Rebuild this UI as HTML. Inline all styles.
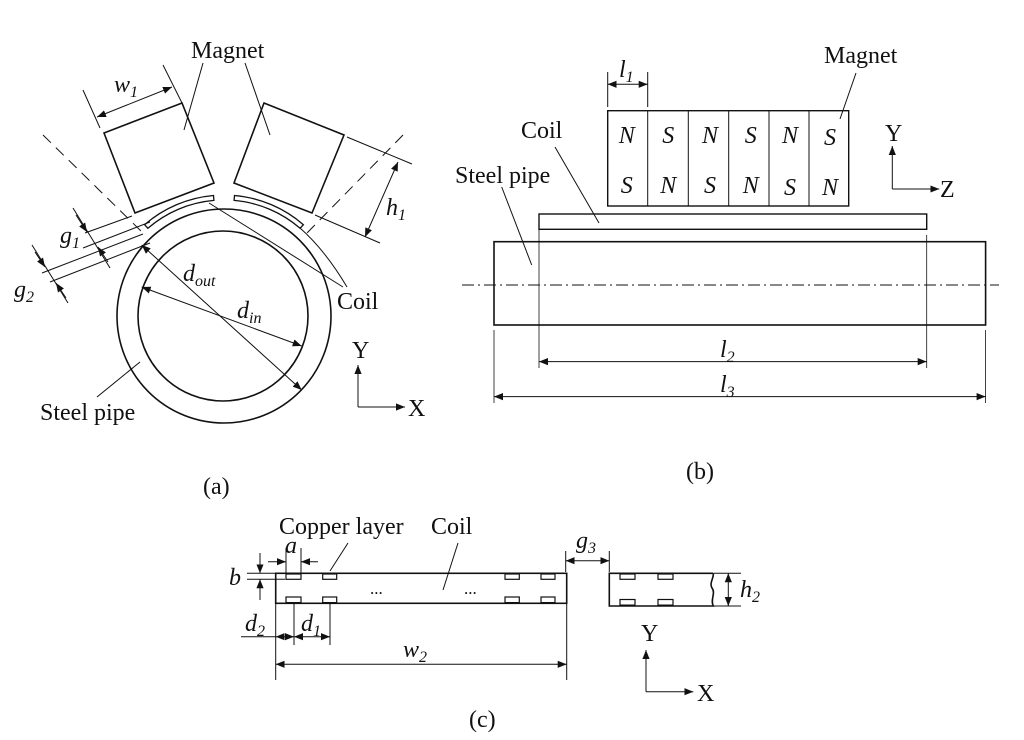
<!DOCTYPE html>
<html><head><meta charset="utf-8"><style>
html,body{margin:0;padding:0;background:#fff;}
svg{display:block;font-family:"Liberation Serif",serif;}
text{fill:#111;}
.i{font-style:italic;}
</style></head><body>
<svg width="1024" height="740" viewBox="0 0 1024 740" xmlns="http://www.w3.org/2000/svg">
<defs>
<marker id="ar" viewBox="0 0 10 10" refX="10" refY="5" markerWidth="9" markerHeight="9" markerUnits="userSpaceOnUse" orient="auto-start-reverse">
<path d="M0,1 L10,5 L0,9 z" fill="#111"/></marker>
</defs>
<g stroke="#111" fill="none" stroke-width="1">
<!-- ===== (a) ===== -->
<circle cx="224" cy="316" r="107" stroke-width="1.6"/>
<circle cx="223" cy="316" r="85" stroke-width="1.6"/>
<polygon points="104,133 182,103 214,183 135,213" stroke-width="1.6"/>
<polygon points="264,103 344,135 312,213 234,183" stroke-width="1.6"/>
<path d="M144.6,224.7 A121 121 0 0 1 213.5,195.5 L213.9,200.4 A116 116 0 0 0 147.9,228.3 Z" stroke-width="1.3"/>
<path d="M234.5,195.5 A121 121 0 0 1 303.4,224.7 L300.1,228.3 A116 116 0 0 0 234.1,200.4 Z" stroke-width="1.3"/>
<line x1="43" y1="135" x2="143" y2="233" stroke-dasharray="11,7"/>
<line x1="403" y1="135" x2="307" y2="233" stroke-dasharray="11,7"/>
<line x1="203" y1="63" x2="184" y2="130"/>
<line x1="245" y1="63" x2="270" y2="135"/>
<line x1="83" y1="90" x2="100" y2="128"/>
<line x1="163" y1="65" x2="182" y2="103"/>
<line x1="97" y1="117" x2="172" y2="87" marker-start="url(#ar)" marker-end="url(#ar)"/>
<line x1="347" y1="137" x2="412" y2="164"/>
<line x1="315" y1="215" x2="380" y2="243"/>
<line x1="398" y1="162" x2="365" y2="237" marker-start="url(#ar)" marker-end="url(#ar)"/>
<line x1="85" y1="233" x2="132" y2="216"/>
<line x1="83" y1="248" x2="150" y2="222"/>
<line x1="42" y1="273" x2="143" y2="234"/>
<line x1="50" y1="282" x2="150" y2="243"/>
<line x1="73" y1="208" x2="110" y2="268"/>
<line x1="32" y1="245" x2="68" y2="303"/>
<line x1="76" y1="215" x2="87" y2="232" marker-end="url(#ar)"/>
<line x1="108" y1="262" x2="98" y2="247" marker-end="url(#ar)"/>
<line x1="35" y1="252" x2="45" y2="267" marker-end="url(#ar)"/>
<line x1="66" y1="298" x2="56" y2="283" marker-end="url(#ar)"/>
<line x1="141.7" y1="245" x2="301.7" y2="390" marker-start="url(#ar)" marker-end="url(#ar)"/>
<line x1="141.7" y1="287" x2="301.7" y2="346" marker-start="url(#ar)" marker-end="url(#ar)"/>
<line x1="343" y1="287" x2="209" y2="203"/>
<path d="M347,287 Q325,250 300,228"/>
<line x1="97" y1="397" x2="140" y2="362"/>
<line x1="358" y1="407" x2="358" y2="365" marker-end="url(#ar)"/>
<line x1="358" y1="407" x2="405" y2="407" marker-end="url(#ar)"/>

<!-- ===== (b) ===== -->
<rect x="607.7" y="110.7" width="241" height="95.3" stroke-width="1.4"/>
<line x1="647.7" y1="110.7" x2="647.7" y2="206"/>
<line x1="688.3" y1="110.7" x2="688.3" y2="206"/>
<line x1="728.7" y1="110.7" x2="728.7" y2="206"/>
<line x1="769" y1="110.7" x2="769" y2="206"/>
<line x1="809" y1="110.7" x2="809" y2="206"/>
<rect x="539" y="214" width="387.7" height="15.3" stroke-width="1.4"/>
<rect x="494" y="241.7" width="491.6" height="83.3" stroke-width="1.6"/>
<line x1="462" y1="285" x2="999" y2="285" stroke-dasharray="12,4,2,4" stroke-width="0.9"/>
<line x1="607.7" y1="72" x2="607.7" y2="107"/>
<line x1="647.7" y1="72" x2="647.7" y2="107"/>
<line x1="607.7" y1="84.3" x2="647.7" y2="84.3" marker-start="url(#ar)" marker-end="url(#ar)"/>
<line x1="856" y1="73" x2="840" y2="119"/>
<line x1="555" y1="147" x2="599" y2="223"/>
<line x1="501.7" y1="187" x2="531.7" y2="265"/>
<line x1="539" y1="230" x2="539" y2="368" stroke-width="0.8"/>
<line x1="926.7" y1="235" x2="926.7" y2="368" stroke-width="0.8"/>
<line x1="494" y1="330" x2="494" y2="403" stroke-width="0.8"/>
<line x1="985.6" y1="330" x2="985.6" y2="403" stroke-width="0.8"/>
<line x1="539" y1="361.6" x2="926.7" y2="361.6" marker-start="url(#ar)" marker-end="url(#ar)"/>
<line x1="494" y1="396.6" x2="985.6" y2="396.6" marker-start="url(#ar)" marker-end="url(#ar)"/>
<line x1="892.3" y1="189" x2="892.3" y2="146" marker-end="url(#ar)"/>
<line x1="892.3" y1="189" x2="939.3" y2="189" marker-end="url(#ar)"/>

<!-- ===== (c) ===== -->
<rect x="275.7" y="573.3" width="291" height="30" stroke-width="1.6"/>
<g stroke-width="1.2">
<rect x="286" y="574" width="15" height="5.3"/><rect x="322.7" y="574" width="14" height="5.3"/>
<rect x="505" y="574" width="14.3" height="5.3"/><rect x="541" y="574" width="14" height="5.3"/>
<rect x="286" y="597" width="15" height="5.6"/><rect x="322.7" y="597" width="14" height="5.6"/>
<rect x="505" y="597" width="14.3" height="5.6"/><rect x="541" y="597" width="14" height="5.6"/>
<rect x="620" y="574" width="15" height="5.3"/><rect x="658" y="574" width="15" height="5.3"/>
<rect x="620" y="599.5" width="15" height="5.6"/><rect x="658" y="599.5" width="15" height="5.6"/>
</g>
<path d="M713.3,573.3 L609.3,573.3 L609.3,606 L713.3,606 C710,600 716,593 712,588 C709,583 714,578 713.3,573.3" stroke-width="1.6"/>
<line x1="348" y1="543" x2="330" y2="571"/>
<line x1="458" y1="543" x2="443" y2="590"/>
<line x1="286" y1="548" x2="286" y2="573"/>
<line x1="301" y1="548" x2="301" y2="573"/>
<line x1="268" y1="561.7" x2="286" y2="561.7" marker-end="url(#ar)"/>
<line x1="318" y1="561.7" x2="301" y2="561.7" marker-end="url(#ar)"/>
<line x1="247" y1="573.3" x2="275" y2="573.3"/>
<line x1="247" y1="579.3" x2="285" y2="579.3"/>
<line x1="260" y1="553" x2="260" y2="573.3" marker-end="url(#ar)"/>
<line x1="260" y1="600" x2="260" y2="579.3" marker-end="url(#ar)"/>
<line x1="275.7" y1="604" x2="275.7" y2="680"/>
<line x1="294" y1="604" x2="294" y2="645"/>
<line x1="330" y1="604" x2="330" y2="645"/>
<line x1="566.7" y1="604" x2="566.7" y2="680"/>
<line x1="241" y1="636.7" x2="275.7" y2="636.7"/>
<line x1="275.7" y1="636.7" x2="294" y2="636.7" marker-start="url(#ar)" marker-end="url(#ar)"/>
<line x1="294" y1="636.7" x2="330" y2="636.7" marker-start="url(#ar)" marker-end="url(#ar)"/>
<line x1="275.7" y1="664.3" x2="566.7" y2="664.3" marker-start="url(#ar)" marker-end="url(#ar)"/>
<line x1="565.7" y1="551" x2="565.7" y2="572"/>
<line x1="609.3" y1="551" x2="609.3" y2="572"/>
<line x1="565.7" y1="560.7" x2="609.3" y2="560.7" marker-start="url(#ar)" marker-end="url(#ar)"/>
<line x1="714" y1="573.3" x2="741" y2="573.3"/>
<line x1="714" y1="606" x2="741" y2="606"/>
<line x1="728.3" y1="573.3" x2="728.3" y2="606" marker-start="url(#ar)" marker-end="url(#ar)"/>
<line x1="646" y1="691.7" x2="646" y2="650" marker-end="url(#ar)"/>
<line x1="646" y1="691.7" x2="693.3" y2="691.7" marker-end="url(#ar)"/>
</g>

<g font-size="24">
<text x="191" y="58">Magnet</text>
<text x="114" y="92" class="i">w<tspan font-size="16" dy="5">1</tspan></text>
<text x="386" y="215" class="i">h<tspan font-size="16" dy="5">1</tspan></text>
<text x="60" y="243" class="i">g<tspan font-size="16" dy="5">1</tspan></text>
<text x="14" y="297" class="i">g<tspan font-size="16" dy="5">2</tspan></text>
<text x="183" y="281" class="i">d<tspan font-size="16" dy="5">out</tspan></text>
<text x="237" y="318" class="i">d<tspan font-size="16" dy="5">in</tspan></text>
<text x="337" y="309">Coil</text>
<text x="40" y="420">Steel pipe</text>
<text x="352" y="358">Y</text>
<text x="408" y="416">X</text>
<text x="203" y="494">(a)</text>
<text x="824" y="63">Magnet</text>
<text x="619" y="77" class="i">l<tspan font-size="16" dy="5">1</tspan></text>
<text x="521" y="138">Coil</text>
<text x="455" y="183">Steel pipe</text>
<g class="i" text-anchor="middle">
<text x="626.7" y="143">N</text><text x="668.3" y="143">S</text><text x="710" y="143">N</text>
<text x="750.7" y="143">S</text><text x="790" y="143">N</text><text x="830" y="145">S</text>
<text x="626.7" y="193">S</text><text x="668.3" y="193">N</text><text x="710" y="193">S</text>
<text x="750.7" y="193">N</text><text x="790" y="195">S</text><text x="830" y="195">N</text>
</g>
<text x="885" y="141">Y</text>
<text x="940" y="197">Z</text>
<text x="720" y="357" class="i">l<tspan font-size="16" dy="5">2</tspan></text>
<text x="720" y="392" class="i">l<tspan font-size="16" dy="5">3</tspan></text>
<text x="686" y="479">(b)</text>
<text x="279" y="534">Copper layer</text>
<text x="431" y="534">Coil</text>
<text x="285" y="553" class="i">a</text>
<text x="229" y="585" class="i">b</text>
<text x="245" y="631" class="i">d<tspan font-size="16" dy="5">2</tspan></text>
<text x="301" y="631" class="i">d<tspan font-size="16" dy="5">1</tspan></text>
<text x="403" y="657" class="i">w<tspan font-size="16" dy="5">2</tspan></text>
<text x="576" y="548" class="i">g<tspan font-size="16" dy="5">3</tspan></text>
<text x="740" y="597" class="i">h<tspan font-size="16" dy="5">2</tspan></text>
<text x="370" y="594" font-size="17">...</text>
<text x="464" y="594" font-size="17">...</text>
<text x="641" y="641">Y</text>
<text x="697" y="701">X</text>
<text x="469" y="727">(c)</text>
</g>
</svg>
</body></html>
